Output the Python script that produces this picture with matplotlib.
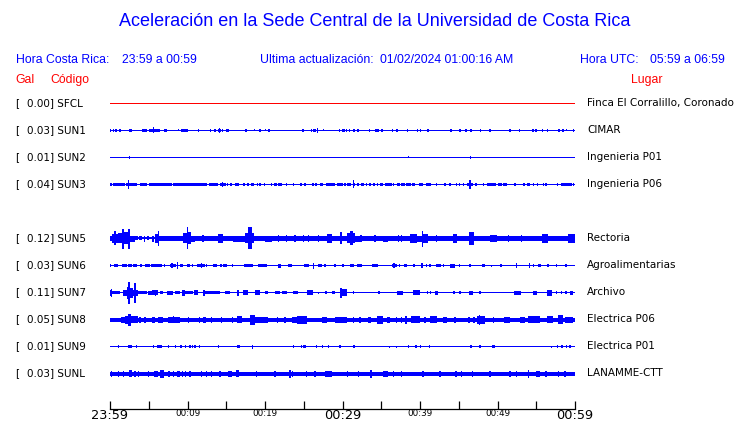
import matplotlib
matplotlib.use("Agg")
import matplotlib.pyplot as plt

# ---------------- data ----------------
gal = ["0.00", "0.03", "0.01", "0.04", "0.12", "0.03", "0.11", "0.05", "0.01", "0.03"]
codes = ["SFCL", "SUN1", "SUN2", "SUN3", "SUN5", "SUN6", "SUN7", "SUN8", "SUN9", "SUNL"]
places = ["Finca El Corralillo, Coronado", "CIMAR", "Ingenieria P01", "Ingenieria P06",
          "Rectoria", "Agroalimentarias", "Archivo", "Electrica P06", "Electrica P01", "LANAMME-CTT"]
rows = [0, 1, 2, 3, 5, 6, 7, 8, 9, 10]
# background amplitude per station (relative units)
base_amp = [0.5, 0.5, 0.5, 0.5, 1.0, 0.5, 0.5, 2.0, 0.5, 2.0]
trace_colors = ["#ff0000"] + ["#0000ff"] * 9

# bursts per station: (start minute, end minute, half amplitude)
sfcl_ev = []
sun1_ev = [(0.09,0.09,1.5),(0.43,0.43,1.5),(0.77,0.77,1.5),(1.16,1.38,1.5),(2.45,2.88,1.5),(4.09,4.73,1.5),
           (5.07,6.45,1.5),(5.5,5.7,3),(7.01,7.01,1.5),(7.23,7.23,1.5),(8.82,8.82,1),(9.16,9.51,1.5),
           (9.68,9.68,1.5),(9.94,9.94,1.5),(11.4,11.4,1.5),(12.95,12.95,1.5),(13.55,13.55,1.5),
           (13.98,14.28,1.5),(14.11,14.11,2.5),(14.5,14.5,1.5),(14.97,15.31,1.5),(17.42,17.63,1.5),
           (18.62,18.62,1),(19.35,19.35,1.5),(20.09,20.09,1),(20.52,20.52,1.5),(24.77,25.03,1.5),
           (26.0,26.0,1.5),(26.24,26.24,1.5),(26.45,26.45,1.5),(26.75,26.75,2.7),(27.6,27.6,1),
           (29.59,29.59,1.5),(29.98,29.98,1.5),(30.19,30.19,1.5),(30.54,30.54,1.5),(30.88,30.88,1.5),
           (31.31,31.61,1.5),(31.91,32.17,1.5),(33.46,33.46,1.5),(34.19,34.71,1.5),(34.92,35.27,1.5),
           (36.43,36.43,1.5),(36.90,37.16,1.5),(38.37,38.37,1.5),(39.70,39.70,1.5),(40.09,40.09,1.5),
           (40.86,41.20,1.5),(44.0,44.0,1.5),(45.08,45.25,1.5),(45.94,45.94,1.5),(46.58,46.58,1.5),
           (47.74,47.91,1.5),(48.90,49.12,1.5),(51.61,51.61,1.5),(52.82,52.82,1.5),(54.45,54.67,1.5),
           (54.97,54.97,1.5),(55.70,55.91,1.5),(56.43,56.43,1.5),(57.76,58.06,1.5),(58.37,58.49,1.5),
           (58.9,58.9,1),(59.78,59.78,1.5)]
sun2_ev = [(2.49,2.49,1.5),(38.5,38.5,1),(46.49,46.49,1.5)]
sun3_ev = [(0.0,0.0,1.5),(0.21,0.21,1.5),(0.43,1.94,1.5),(2.06,2.71,1.5),(2.41,2.41,4.5),(2.71,3.44,1.5),
           (3.87,4.73,1.5),(5.03,7.96,1.5),(8.17,12.47,1.5),(12.77,13.98,1.5),(14.19,14.92,1.5),
           (14.5,14.5,2.3),(15.05,15.27,1.5),(15.48,15.79,1.5),(16.13,16.69,1.5),(17.2,17.42,1.5),
           (17.63,17.94,1.5),(18.15,18.58,1.5),(18.92,19.14,1.5),(19.35,19.35,1.5),(19.91,19.91,1.5),
           (20.86,20.86,1.5),(21.2,21.5,1.5),(21.72,22.24,1.5),(22.8,22.8,1.5),(23.66,23.66,1.5),
           (24.52,24.73,1.5),(25.16,25.16,1.5),(26.02,26.37,1.5),(26.58,26.58,1.5),(27.1,27.53,1.5),
           (27.83,29.03,1.5),(29.25,30.11,1.5),(30.32,30.32,1.5),(30.54,31.05,1.5),(31.31,31.61,1.5),
           (31.4,31.4,4),(31.91,32.17,1.5),(32.34,32.77,1.5),(33.12,33.12,1.5),(33.55,33.55,1.5),
           (33.98,34.19,1.5),(34.54,34.54,1.5),(34.84,35.27,1.5),(35.48,36.34,1.5),(36.56,36.56,1.5),
           (37.08,37.42,1.5),(37.55,38.06,1.5),(38.19,38.8,1.5),(38.93,39.35,1.5),(39.91,40.43,1.5),
           (40.77,41.38,1.5),(42.15,42.15,1.5),(43.23,43.23,1.5),(43.87,43.87,1.5),(44.73,44.73,1.5),
           (45.08,45.08,1.5),(45.59,45.59,1.5),(46.02,46.28,1.5),(46.36,46.8,1.5),(46.45,46.45,4.5),
           (47.22,47.22,1.5),(48.17,48.17,1.5),(48.6,49.81,1.5),(50.11,50.62,1.5),(50.75,51.18,1.5),
           (52.26,52.26,1.5),(53.33,53.55,1.5),(53.76,54.2,1.5),(54.62,54.62,1.5),(55.05,55.27,1.5),
           (55.91,55.91,1.5),(56.26,56.26,1.5),(57.72,57.72,1.5),(58.15,59.57,1.5),(59.78,59.78,1.5)]
sun5_ev = [(0,0.22,2.5),(0.22,0.56,4),(0.56,0.77,7),(0.77,1.08,4),(1.08,1.51,5),(1.51,1.85,10),(1.85,2.28,6),
           (2.28,2.62,10),(2.62,3.23,3),(3.23,3.66,2),(3.79,4.17,2),(4.4,4.4,3),(4.73,5.08,2),(5.38,5.72,3),
           (5.81,6.15,4),(6.15,6.37,7.5),(6.37,6.88,2.5),(6.88,9.46,2.5),(9.46,9.89,5),(9.89,10.11,11),
           (10.11,10.45,6),(10.45,10.97,3),(10.97,13.98,2.5),(12.0,12.0,3.5),(13.98,14.62,4.5),
           (14.62,15.91,2.5),(15.91,17.42,3),(17.42,17.85,5),(17.85,18.28,11),(18.28,18.62,5),
           (18.62,20.0,2.5),(20.0,20.86,3),(20.86,27.96,2.3),(21.72,21.72,3.5),(22.8,22.8,3.5),
           (23.87,23.87,3.5),(24.95,24.95,3.5),(25.59,25.59,3.5),(26.88,26.88,3.5),(27.96,28.6,4.5),
           (28.6,29.68,2.5),(29.68,29.89,6),(29.89,30.54,2.5),(30.54,31.61,5),(30.97,31.4,7),
           (31.61,32.26,3),(32.26,35.27,2.5),(32.39,32.39,3.5),(34.19,34.19,3.5),(35.27,35.91,3),
           (35.91,38.71,2.5),(37.2,37.2,3.5),(37.63,37.63,3.5),(38.71,39.57,4),(39.57,40.22,3),
           (40.22,40.43,8),(40.43,41.07,4),(41.07,44.3,2.5),(42.15,42.15,3.5),(44.3,44.73,4),
           (44.73,46.36,2.5),(46.36,46.97,6.5),(46.97,49.03,2.5),(49.03,49.89,3.5),(49.89,55.7,2.5),
           (51.4,51.4,3.5),(53.12,53.12,3.5),(55.7,56.56,4),(56.56,59.05,2.5),(59.05,60,4)]
sun6_ev = [(0.0,0.0,1.5),(0.56,1.08,1.5),(1.59,2.15,1.5),(2.37,2.8,1.5),(3.01,3.44,1.5),(3.87,4.09,1.5),
           (4.52,5.16,1.5),(5.29,6.75,1.5),(7.01,7.01,1.5),(7.74,8.47,1.5),(8.0,8.0,2.5),(8.69,8.69,3.5),
           (9.03,9.46,1.5),(9.89,10.32,1.5),(10.62,10.62,1.5),(11.27,12.26,1.5),(11.83,11.83,2.5),
           (12.47,12.47,1.5),(13.33,13.76,1.5),(14.19,14.5,1.5),(14.62,15.05,1.5),(15.7,15.91,1.5),
           (17.33,18.49,1.5),(19.05,20.22,1.5),(21.72,22.06,2),(22.92,23.44,1.5),(25.03,25.68,1.5),
           (26.24,26.24,3),(26.8,27.31,1.5),(27.74,27.74,1.5),(29.03,29.03,1.5),(29.98,30.24,1.5),
           (30.97,31.48,1.5),(31.91,32.47,1.5),(33.76,34.62,1.5),(36.34,36.99,1.5),(36.65,36.65,2.5),
           (37.33,37.33,1.5),(37.93,38.28,1.5),(39.05,39.35,1.5),(40.09,40.43,2.5),(40.77,40.95,1.5),
           (41.29,41.29,1.5),(42.06,42.67,1.5),(43.01,43.01,1.5),(43.87,44.52,2),(45.08,45.08,1.5),
           (46.45,46.45,1.5),(47.96,48.39,1.5),(49.25,49.25,1),(50.32,50.54,1.5),(52.47,52.47,2.5),
           (54.11,54.11,2.5),(54.54,54.71,1.5),(55.18,55.61,1.5),(56.43,56.65,1.5),(57.63,57.63,1.5),
           (58.84,58.84,1.5)]
sun7_ev = [(0,0.3,3),(0.1,0.15,4),(0.3,1.29,1.5),(1.72,2.15,3),(2.15,2.37,6),(2.37,2.62,11),(2.62,3.01,5),
           (3.01,3.14,3),(3.14,3.36,10),(3.36,3.66,3),(3.66,4.73,1.5),(4.95,5.38,2),(5.38,6.24,2.5),
           (5.8,5.9,3),(6.45,6.88,1.5),(7.31,8.17,2),(8.39,9.03,1.5),(9.25,9.68,3),(9.68,10.75,1.5),
           (10.88,11.4,2.5),(12.04,12.26,3),(12.26,14.19,1.5),(14.84,15.48,1.5),(16.34,16.65,3),
           (17.2,17.76,2.5),(18.71,19.35,2.5),(20.0,20.43,1.5),(21.29,21.94,1.5),(22.15,22.8,1.5),
           (23.66,24.3,1.5),(25.38,26.24,2.5),(26.88,26.88,1),(27.74,27.96,1.5),(28.6,29.03,1.5),
           (29.68,30.54,3.5),(29.7,29.9,5),(31.4,31.4,1.5),(34.62,34.84,1.5),(37.08,37.76,2),
           (39.14,40.0,2.5),(40.99,40.99,1.5),(41.38,41.38,1.5),(41.94,42.37,2),(44.3,44.52,1.5),
           (45.16,45.16,1.5),(46.36,46.8,2),(47.74,47.74,1.5),(52.13,52.99,2),(54.54,55.14,2),
           (56.34,57.07,3),(57.63,57.63,1.5),(58.28,58.28,1.5),(58.84,58.84,1.5),(59.35,59.78,2)]
sun8_ev = [(0,1.29,2),(1.42,1.94,3),(1.94,2.37,4),(2.37,2.71,6),(2.71,3.66,3.5),(3.87,3.87,3),(4.52,4.52,3),
           (5.38,5.81,3),(6.24,6.88,3),(7.53,9.03,3),(8.1,8.25,3.5),(10.1,10.1,3),(11.6,11.6,3),
           (12.05,12.05,3),(12.26,12.26,3),(13.12,13.12,3),(14.41,14.41,3),(15.79,15.79,3),
           (16.34,17.08,3.5),(18.06,18.71,5),(18.71,19.57,3),(19.57,20.43,3),(21.5,21.72,3),
           (22.58,22.58,3),(23.44,24.09,3),(24.09,25.38,4),(27.31,27.96,3),(29.03,30.54,3),(31.4,31.4,3),
           (32.26,32.26,3),(33.33,33.63,3),(34.49,35.27,4),(35.7,36.13,3),(36.99,36.99,3),(37.63,37.63,3),
           (38.06,38.28,4),(38.8,40.0,3.5),(40.65,40.65,3),(41.29,42.15,3.5),(43.01,43.44,3),
           (44.52,44.52,3),(46.32,46.32,3),(46.8,47.1,3),(47.31,48.39,4),(47.6,47.75,5),(49.46,49.46,3),
           (50.84,51.61,3),(52.9,53.55,3),(53.98,55.48,3.5),(56.34,57.2,3.5),(57.85,58.49,4.5),
           (58.71,59.78,3)]
sun9_ev = [(1.08,1.08,1.5),(2.28,2.88,1.5),(3.44,3.44,1.5),(5.59,5.59,1.5),(6.02,6.67,1.5),(7.53,7.53,1.5),
           (8.47,8.47,1.5),(9.03,9.33,1.5),(9.76,9.76,1.5),(10.32,10.32,1.5),(10.62,10.62,1.5),
           (10.97,10.97,1.5),(11.53,11.53,1.5),(13.98,13.98,1.5),(16.43,16.77,1.5),(18.41,18.41,2),
           (23.66,23.66,1.5),(24.73,24.73,1.5),(24.95,24.95,1.5),(25.16,25.16,1.5),(26.67,26.67,1.5),
           (27.4,27.4,1.5),(28.17,28.17,1.5),(29.59,29.81,1.5),(31.4,31.61,1.5),(36.04,36.04,1),
           (36.99,36.99,1),(38.49,38.49,1.5),(39.48,39.48,1.5),(40.09,40.09,1.5),(41.2,41.2,1.5),
           (46.45,46.75,1.5),(47.74,47.74,1.5),(49.25,49.68,1.5),(56.99,56.99,1),(57.72,57.72,1.5),
           (58.15,58.41,1.5),(58.92,58.92,1.5),(59.35,59.35,1.5)]
sunl_ev = [(0.22,0.22,3),(1.08,1.08,3),(1.72,1.72,3),(2.45,2.88,3.5),(3.23,3.23,3),(3.66,3.66,3),(4.95,4.95,3),
           (5.72,6.24,3),(6.45,7.01,4),(7.61,7.61,3),(8.17,8.17,3),(8.6,9.03,3),(9.33,9.33,3),(9.76,9.76,3),
           (10.32,10.32,3),(11.83,11.83,3),(12.47,12.47,3),(13.12,13.12,3),(14.19,14.19,3),
           (15.18,15.7,3),(16.22,16.65,3.5),(18.92,18.92,3),(21.29,21.29,3),(23.23,23.23,4),
           (23.44,23.66,3),(25.38,25.38,3),(26.45,26.45,3),(27.74,28.6,3),(30.54,30.75,3),(32.04,32.04,3),
           (33.55,33.76,4),(35.27,35.91,3),(36.56,36.56,3),(37.63,37.63,3),(40.22,40.52,3),
           (42.58,42.58,3),(44.52,44.73,3),(45.38,45.38,3),(46.67,46.88,3),(49.03,49.03,3),
           (51.61,51.61,3),(52.47,52.47,3),(53.98,53.98,4),(54.97,55.48,3),(56.13,56.34,3),
           (57.85,57.85,3),(58.71,58.71,3)]
events = [sfcl_ev, sun1_ev, sun2_ev, sun3_ev, sun5_ev, sun6_ev, sun7_ev, sun8_ev, sun9_ev, sunl_ev]

tick_minutes = list(range(0, 61, 5))
tick_labels = ["23:59", "", "00:09", "", "00:19", "", "00:29", "", "00:39", "", "00:49", "", "00:59"]
major_labels = {"23:59", "00:29", "00:59"}

# ---------------- figure ----------------
W, H = 740, 423
fig = plt.figure(figsize=(W / 100, H / 100), dpi=100)
fig.patch.set_facecolor("white")

def fx(px):
    return px / W

def fy(py):
    return 1 - py / H

BLUE = "#0000ff"
RED = "#ff0000"
HFONT = "Liberation Sans"
LFONT = "DejaVu Sans"
HS = 8.8

fig.text(fx(375), fy(22), "Aceleración en la Sede Central de la Universidad de Costa Rica",
         ha="center", va="center", color=BLUE, fontsize=13, family=HFONT)
hy = fy(60)
fig.text(fx(15.5), hy, "Hora Costa Rica:", color=BLUE, fontsize=HS, family=HFONT, va="center")
fig.text(fx(122), hy, "23:59 a 00:59", color=BLUE, fontsize=HS, family=HFONT, va="center")
fig.text(fx(260.5), hy, "Ultima actualización:", color=BLUE, fontsize=HS, family=HFONT, va="center")
fig.text(fx(380.5), hy, "01/02/2024 01:00:16 AM", color=BLUE, fontsize=HS, family=HFONT, va="center")
fig.text(fx(580.5), hy, "Hora UTC:", color=BLUE, fontsize=HS, family=HFONT, va="center")
fig.text(fx(650.5), hy, "05:59 a 06:59", color=BLUE, fontsize=HS, family=HFONT, va="center")
gy = fy(80)
fig.text(fx(15.5), gy, "Gal", color=RED, fontsize=HS, family=HFONT, va="center")
fig.text(fx(50.5), gy, "Código", color=RED, fontsize=HS, family=HFONT, va="center")
fig.text(fx(631), gy, "Lugar", color=RED, fontsize=HS, family=HFONT, va="center")

# traces: rows sit on pixel centres so 1-px traces render crisp
TOP, BOT = 90, 387
ax = fig.add_axes([fx(110), fy(BOT), fx(575) - fx(110), (BOT - TOP) / H])
ax.set_xlim(0, 60)
ax.set_ylim(10.5, -0.5)
ax.axis("off")
SCALE = 1 / 27.0
TICK_W = 0.15
for r, b, col, ev in zip(rows, base_amp, trace_colors, events):
    ax.bar(0, 2 * b * SCALE, width=60, bottom=r - b * SCALE, align="edge", color=col, lw=0)
    if ev:
        lefts, widths, bottoms, heights = [], [], [], []
        for t0, t1, a in ev:
            w = max(t1 - t0, TICK_W)
            lefts.append(t0 if t1 > t0 else t0 - TICK_W / 2)
            widths.append(w)
            bottoms.append(r - a * SCALE)
            heights.append(2 * a * SCALE)
        ax.bar(lefts, heights, width=widths, bottom=bottoms, align="edge", color=col, lw=0)

for i, r in enumerate(rows):
    yy = fy(103 + 27 * r)
    fig.text(fx(15), yy, "[", fontsize=7.5, family=LFONT, va="center")
    fig.text(fx(27), yy, f"{gal[i]}] {codes[i]}", fontsize=7.5, family=LFONT, va="center")
    fig.text(fx(587), yy, places[i], fontsize=7.5, family=LFONT, va="center")

# time axis
ax2 = fig.add_axes([fx(110), fy(408.5), fx(575) - fx(110), 0.02])
ax2.set_xlim(0, 60)
for s in ["top", "left", "right"]:
    ax2.spines[s].set_visible(False)
ax2.spines["bottom"].set_linewidth(0.9)
ax2.patch.set_alpha(0)
ax2.set_yticks([])
ax2.set_xticks(tick_minutes)
ax2.set_xticklabels(tick_labels)
ax2.tick_params(axis="x", direction="in", length=5.5, width=0.9, pad=0.5)
for lab in ax2.get_xticklabels():
    lab.set_family(LFONT)
    if lab.get_text() in major_labels:
        lab.set_fontsize(9.3)
    else:
        lab.set_fontsize(6.3)

fig.savefig("out.png", dpi=100)
